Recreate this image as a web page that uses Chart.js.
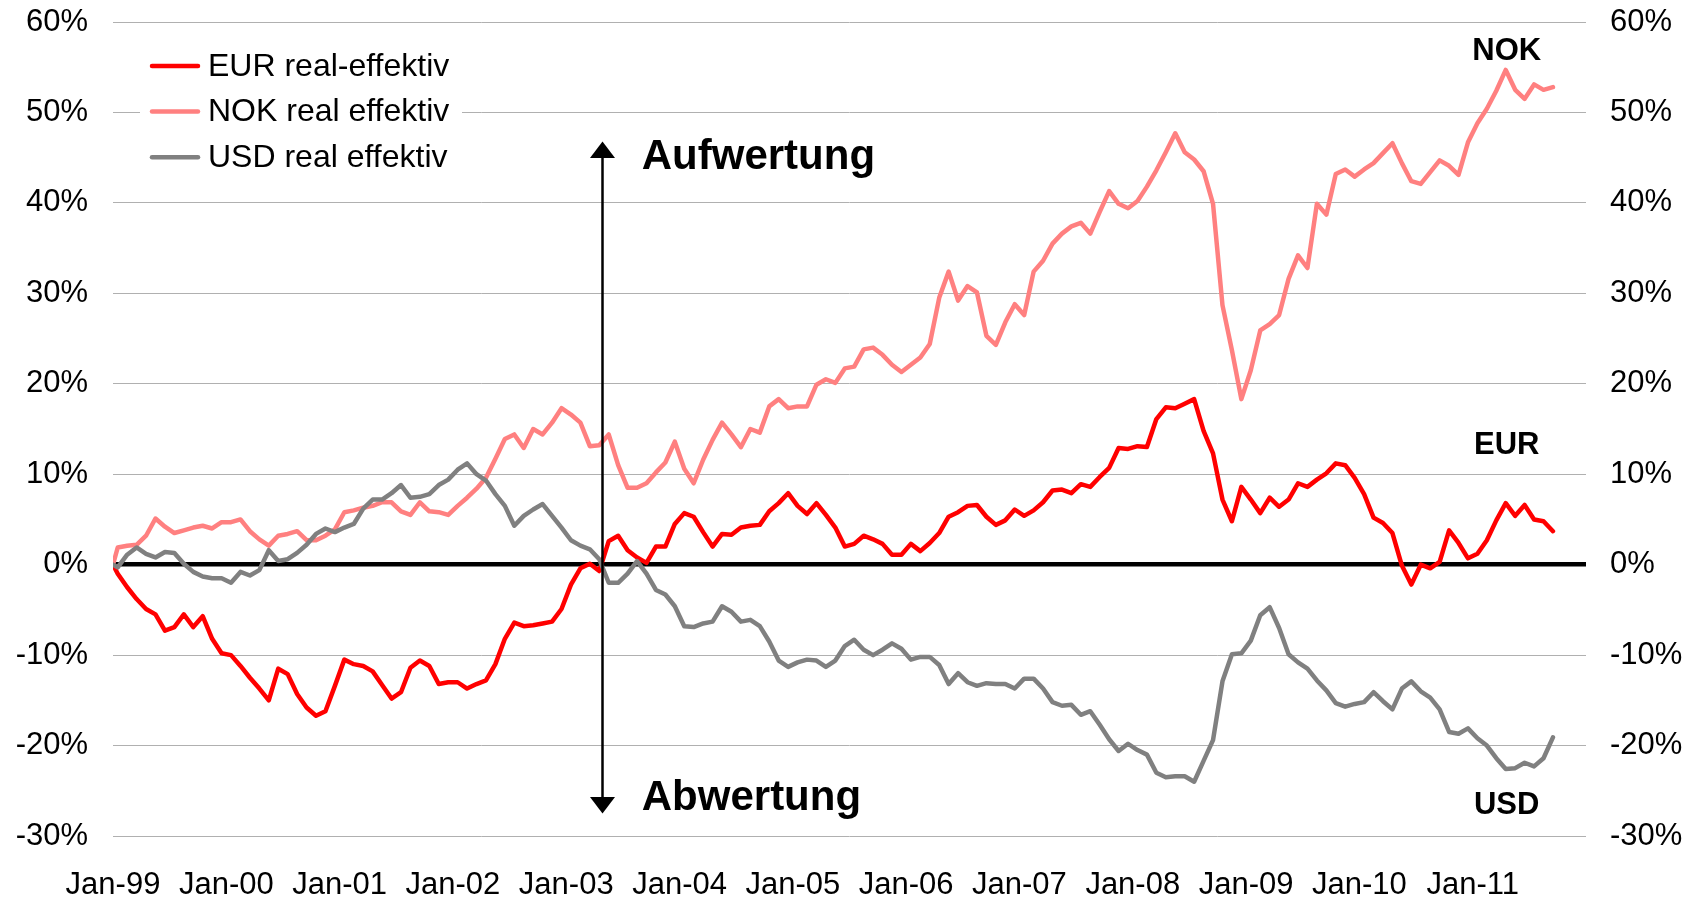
<!DOCTYPE html>
<html><head><meta charset="utf-8">
<script src="https://cdn.jsdelivr.net/npm/chart.js@4.4.0/dist/chart.umd.min.js"></script>
<style>html,body{margin:0;padding:0;background:#fff;}#wrap{width:1699px;height:900px;}</style>
</head><body><div id="wrap"><canvas id="c" width="1699" height="900"></canvas></div>
<script>
// ---- data ----
const tickLabels = ['Jan-99','Jan-00','Jan-01','Jan-02','Jan-03','Jan-04','Jan-05','Jan-06','Jan-07','Jan-08','Jan-09','Jan-10','Jan-11'];
const seriesNames = ['EUR real-effektiv','NOK real effektiv','USD real effektiv'];
const seriesColors = ['#ff0000','#ff8080','#808080'];
const startValue = 0; // index base, 1 Jan 1999
// monthly values (% vs base), Jan-99 .. Sep-11
const eurValues = [-1.0,-2.5,-3.8,-4.9,-5.5,-7.3,-6.9,-5.5,-6.9,-5.7,
-8.2,-9.8,-10.0,-11.2,-12.5,-13.7,-15.0,-11.5,-12.1,-14.3,
-15.8,-16.7,-16.2,-13.4,-10.5,-11.0,-11.2,-11.8,-13.3,-14.8,
-14.1,-11.4,-10.6,-11.2,-13.2,-13.0,-13.0,-13.7,-13.2,-12.8,
-11.0,-8.2,-6.4,-6.8,-6.7,-6.5,-6.3,-4.9,-2.2,-0.4,
0.1,-0.7,2.6,3.2,1.6,0.8,0.2,2.0,2.0,4.5,
5.7,5.3,3.6,2.0,3.4,3.3,4.1,4.3,4.4,5.9,
6.8,7.9,6.5,5.6,6.8,5.5,4.1,2.0,2.3,3.2,
2.8,2.3,1.1,1.1,2.3,1.5,2.4,3.5,5.3,5.8,
6.5,6.6,5.3,4.4,4.9,6.1,5.4,6.0,6.9,8.2,
8.3,7.9,8.9,8.6,9.7,10.7,12.9,12.8,13.1,13.0,
16.1,17.4,17.3,17.8,18.3,14.8,12.3,7.2,4.8,8.6,
7.2,5.7,7.4,6.4,7.2,9.0,8.6,9.4,10.1,11.2,
11.0,9.6,7.8,5.2,4.6,3.5,-0.1,-2.2,0.0,-0.4,
0.3,3.8,2.4,0.7,1.2,2.7,4.9,6.8,5.4,6.6,
5.0,4.8,3.7];
const nokValues = [1.9,2.1,2.2,3.2,5.1,4.2,3.5,3.8,4.1,4.3,
4.0,4.7,4.7,5.0,3.7,2.8,2.1,3.2,3.4,3.7,
2.7,2.7,3.2,3.9,5.8,6.0,6.3,6.5,6.9,6.9,
5.9,5.5,6.9,5.9,5.8,5.5,6.5,7.4,8.4,9.6,
11.7,13.9,14.4,12.9,15.0,14.4,15.7,17.3,16.6,15.7,
13.1,13.2,14.4,11.0,8.5,8.5,9.0,10.2,11.3,13.6,
10.6,9.0,11.6,13.8,15.7,14.4,13.0,15.0,14.6,17.5,
18.3,17.3,17.5,17.5,19.9,20.5,20.1,21.7,21.9,23.8,
24.0,23.2,22.1,21.3,22.1,22.9,24.4,29.5,32.4,29.2,
30.8,30.1,25.3,24.3,26.8,28.8,27.6,32.4,33.6,35.5,
36.6,37.4,37.8,36.6,39.0,41.3,39.9,39.4,40.2,41.8,
43.6,45.6,47.7,45.6,44.8,43.5,39.9,28.7,23.7,18.3,
21.5,25.9,26.6,27.6,31.6,34.2,32.8,39.9,38.7,43.2,
43.7,42.9,43.7,44.4,45.5,46.6,44.4,42.4,42.1,43.4,
44.7,44.1,43.1,46.7,48.8,50.4,52.4,54.7,52.5,51.5,
53.1,52.5,52.8];
const usdValues = [-0.3,1.1,1.9,1.2,0.8,1.4,1.3,0.1,-0.8,-1.3,
-1.5,-1.5,-2.0,-0.8,-1.2,-0.6,1.6,0.4,0.6,1.3,
2.2,3.4,4.0,3.6,4.1,4.5,6.2,7.2,7.2,7.9,
8.8,7.4,7.5,7.8,8.8,9.4,10.5,11.2,10.0,9.3,
7.8,6.5,4.3,5.4,6.1,6.7,5.4,4.1,2.7,2.1,
1.7,0.6,-2.0,-2.0,-1.0,0.4,-1.0,-2.8,-3.3,-4.6,
-6.8,-6.9,-6.5,-6.3,-4.6,-5.2,-6.3,-6.1,-6.8,-8.5,
-10.6,-11.3,-10.8,-10.5,-10.6,-11.3,-10.6,-9.0,-8.3,-9.4,
-10.0,-9.4,-8.7,-9.3,-10.5,-10.2,-10.2,-11.1,-13.2,-12.0,
-13.0,-13.4,-13.1,-13.2,-13.2,-13.7,-12.6,-12.6,-13.7,-15.2,
-15.6,-15.5,-16.6,-16.2,-17.7,-19.3,-20.6,-19.8,-20.5,-21.0,
-23.0,-23.5,-23.4,-23.4,-24.0,-21.7,-19.4,-12.9,-9.9,-9.8,
-8.4,-5.6,-4.7,-7.0,-9.9,-10.8,-11.5,-12.8,-13.9,-15.3,
-15.7,-15.4,-15.2,-14.1,-15.1,-16.0,-13.7,-12.9,-14.0,-14.7,
-16.0,-18.5,-18.7,-18.1,-19.2,-20.0,-21.4,-22.6,-22.5,-21.9,
-22.3,-21.4,-19.1];
const endLabels = [['NOK',56.75],['EUR',13.2],['USD',-26.6]];
const arrowMonth = 51.76;      // position of the up/down arrow (months since Jan-99)
const arrowRange = [46.8,-27.5];
const upText = ['Aufwertung',45.0], downText = ['Abwertung',-25.8];
const textMonth = 56.0, endLabelMonth = 147.6;

// ---- chart ----
const FONT = "'Liberation Sans', Arial, sans-serif";
const toPoints = vals => [{x:0,y:startValue}].concat(vals.map((v,k)=>({x:k+0.5,y:v})));
const allValues = [eurValues,nokValues,usdValues];

const overlay = {
  id:'overlay',
  afterDatasetsDraw(chart){
    const {ctx} = chart; const x = chart.scales.x, y = chart.scales.y;
    ctx.save();
    // arrow
    const ax = Math.round(x.getPixelForValue(arrowMonth))+0.5;
    const t = y.getPixelForValue(arrowRange[0]), b = y.getPixelForValue(arrowRange[1]);
    const hw = 12.5, hh = 16.5;
    ctx.strokeStyle = '#000'; ctx.lineWidth = 2.5;
    ctx.beginPath(); ctx.moveTo(ax,t+hh-2); ctx.lineTo(ax,b-hh+2); ctx.stroke();
    ctx.fillStyle = '#000';
    ctx.beginPath(); ctx.moveTo(ax,t); ctx.lineTo(ax-hw,t+hh); ctx.lineTo(ax+hw,t+hh); ctx.closePath(); ctx.fill();
    ctx.beginPath(); ctx.moveTo(ax,b); ctx.lineTo(ax-hw,b-hh); ctx.lineTo(ax+hw,b-hh); ctx.closePath(); ctx.fill();
    // direction labels
    ctx.font = 'bold 42px ' + FONT; ctx.textBaseline = 'middle'; ctx.textAlign = 'left';
    const tx = x.getPixelForValue(textMonth);
    ctx.fillText(upText[0], tx, y.getPixelForValue(upText[1]));
    ctx.fillText(downText[0], tx, y.getPixelForValue(downText[1]));
    // currency labels
    ctx.font = 'bold 31px ' + FONT; ctx.textAlign = 'center';
    const ex = x.getPixelForValue(endLabelMonth);
    endLabels.forEach(([s,v]) => ctx.fillText(s, ex, y.getPixelForValue(v)));
    // legend
    ctx.fillStyle = '#fff'; ctx.fillRect(140, 38, 322, 146);
    ctx.font = '32px ' + FONT; ctx.textAlign = 'left';
    seriesNames.forEach((n,i) => {
      const ly = 66 + i*45.6;
      ctx.strokeStyle = seriesColors[i]; ctx.lineWidth = 4.5; ctx.lineCap = 'round';
      ctx.beginPath(); ctx.moveTo(152, ly); ctx.lineTo(198, ly); ctx.stroke();
      ctx.fillStyle = '#000'; ctx.fillText(n, 208, ly+1);
    });
    ctx.restore();
  }
};

const tickFont = {family: FONT, size: 31};
new Chart(document.getElementById('c'), {
  type: 'line',
  data: {
    datasets: seriesNames.map((n,i) => ({
      label: n, data: toPoints(allValues[i]), borderColor: seriesColors[i],
      borderWidth: 4.5, pointRadius: 0, tension: 0, fill: false,
      borderJoinStyle: 'round', borderCapStyle: 'round', order: 2 - i
    }))
  },
  options: {
    responsive: false, animation: false, devicePixelRatio: 1,
    layout: {padding: {top: 22, left: 0, right: 0, bottom: 0}},
    plugins: {legend: {display: false}, tooltip: {enabled: false}},
    scales: {
      x: {
        type: 'linear', min: 0, max: 156,
        ticks: {stepSize: 12, autoSkip: false, maxRotation: 0, minRotation: 0, padding: 31,
          color: '#000', font: tickFont,
          callback: v => tickLabels[Math.round(v/12)] ?? ''},
        grid: {display: false, drawTicks: false}, border: {display: false},
        afterFit(s){ s.height = 64; s.paddingLeft = 0; s.paddingRight = 0; }
      },
      y: {
        type: 'linear', position: 'left', min: -30, max: 60,
        ticks: {stepSize: 10, padding: 25, color: '#000', font: tickFont, callback: v => v + '%'},
        grid: {drawTicks: false,
          color: c => c.tick && c.tick.value === 0 ? '#000' : '#b0b0b0',
          lineWidth: c => c.tick && c.tick.value === 0 ? 4.5 : 1},
        border: {display: false},
        afterFit(s){ s.width = 113; s.paddingTop = 0; s.paddingBottom = 0; }
      },
      y2: {
        type: 'linear', position: 'right', min: -30, max: 60,
        ticks: {stepSize: 10, padding: 24, color: '#000', font: tickFont, callback: v => v + '%'},
        grid: {display: false, drawTicks: false}, border: {display: false},
        afterFit(s){ s.width = 113; s.paddingTop = 0; s.paddingBottom = 0; }
      }
    }
  },
  plugins: [overlay]
});
</script></body></html>
